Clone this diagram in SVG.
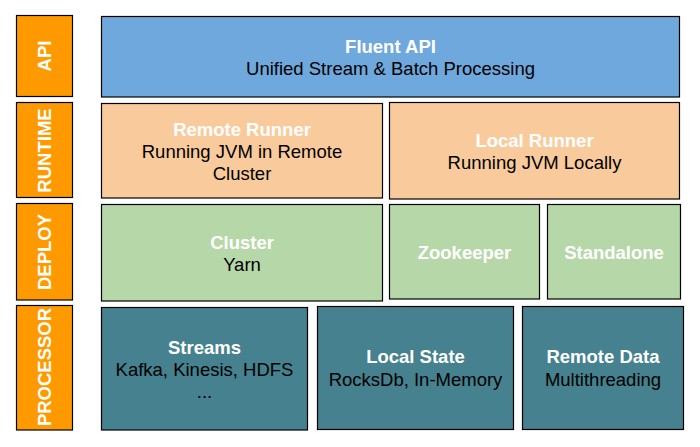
<svg xmlns="http://www.w3.org/2000/svg" width="700" height="447" viewBox="0 0 700 447">
<style>
rect{stroke:#000;stroke-width:1.2}
.lab{fill:#FF9900}
.api{fill:#6FA8DC}
.rt{fill:#F9CB9C}
.dp{fill:#B6D7A8}
.pr{fill:#45818E}
text{font-family:"Liberation Sans",Arial,sans-serif;font-size:18.5px;text-anchor:middle}
.t{font-weight:bold;fill:#fff}
.s{fill:#000}
</style>
<rect x="0" y="0" width="700" height="447" style="fill:#fff;stroke:none"/>
<g id="label-api"><rect class="lab" x="16.5" y="15.5" width="56" height="81"/><text class="t" transform="translate(51,56) rotate(-90)">API</text></g>
<g id="label-runtime"><rect class="lab" x="16.5" y="102.5" width="56" height="95"/><text class="t" transform="translate(51,150.5) rotate(-90)">RUNTIME</text></g>
<g id="label-deploy"><rect class="lab" x="16.5" y="203.5" width="56" height="96.5"/><text class="t" transform="translate(51,252) rotate(-90)">DEPLOY</text></g>
<g id="label-processor"><rect class="lab" x="16.5" y="305.5" width="56" height="124.5"/><text class="t" transform="translate(51,367) rotate(-90)">PROCESSOR</text></g>

<g id="fluent-api"><rect class="api" x="101.5" y="16.5" width="578" height="80.5"/><text class="t" x="390.5" y="53.3">Fluent API</text><text class="s" x="390.5" y="75">Unified Stream &amp; Batch Processing</text></g>

<g id="remote-runner"><rect class="rt" x="101.5" y="103.5" width="281" height="94.5"/><text class="t" x="242" y="136">Remote Runner</text><text class="s" x="242" y="158.3">Running JVM in Remote</text><text class="s" x="242" y="180">Cluster</text></g>
<g id="local-runner"><rect class="rt" x="389.5" y="102.5" width="290" height="96.5"/><text class="t" x="534.5" y="146.7">Local Runner</text><text class="s" x="534.5" y="169">Running JVM Locally</text></g>

<g id="cluster"><rect class="dp" x="101.5" y="204.5" width="281" height="96.5"/><text class="t" x="242" y="249.3">Cluster</text><text class="s" x="242" y="271">Yarn</text></g>
<g id="zookeeper"><rect class="dp" x="389.5" y="204.5" width="150" height="94.5"/><text class="t" x="464.5" y="259.3">Zookeeper</text></g>
<g id="standalone"><rect class="dp" x="547.5" y="204.5" width="133" height="94.5"/><text class="t" x="614" y="259.3">Standalone</text></g>

<g id="streams"><rect class="pr" x="101.5" y="307.5" width="206" height="122.5"/><text class="t" x="204.5" y="354">Streams</text><text class="s" x="204.5" y="375.7">Kafka, Kinesis, HDFS</text><text class="s" x="204.5" y="398">...</text></g>
<g id="local-state"><rect class="pr" x="317.5" y="306.5" width="196" height="123"/><text class="t" x="415.5" y="363.3">Local State</text><text class="s" x="415.5" y="385.7">RocksDb, In-Memory</text></g>
<g id="remote-data"><rect class="pr" x="522.5" y="306.5" width="161" height="123"/><text class="t" x="603" y="363.3">Remote Data</text><text class="s" x="603" y="385.7">Multithreading</text></g>
<g id="connectors"></g>
</svg>
